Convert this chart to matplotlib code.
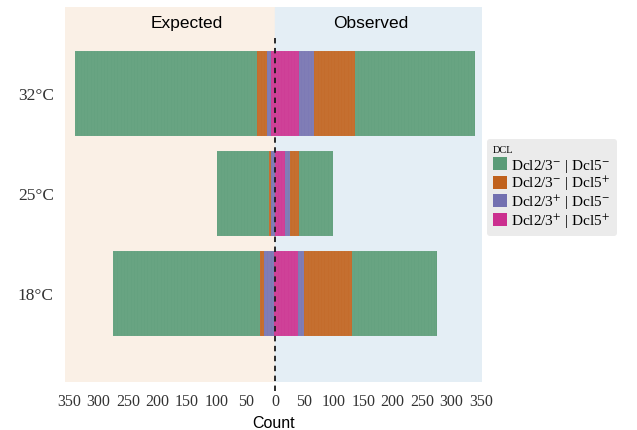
import numpy as np
import matplotlib.pyplot as plt
from matplotlib.patches import Patch

plt.rcParams['mathtext.fontset'] = 'stix'

temps = ['18°C', '25°C', '32°C']
groups = ['Dcl2/3$^{-}$ | Dcl5$^{-}$', 'Dcl2/3$^{-}$ | Dcl5$^{+}$',
          'Dcl2/3$^{+}$ | Dcl5$^{-}$', 'Dcl2/3$^{+}$ | Dcl5$^{+}$']
colors = ['#5A9B77', '#C0611C', '#7370B0', '#CB2F8F']

# counts per temperature (18, 25, 32), one list per DCL group
expected_mm = [250, 89, 309]
expected_mp = [7, 3, 18]
expected_pm = [16, 7, 6]
expected_pp = [2, 0, 7]
observed_mm = [144, 58, 204]
observed_mp = [81, 15, 69]
observed_pm = [11, 9, 26]
observed_pp = [39, 17, 41]

expected = np.array([expected_mm, expected_mp, expected_pm, expected_pp])
observed = np.array([observed_mm, observed_mp, observed_pm, observed_pp])

fig = plt.figure(figsize=(6.37, 4.31), dpi=100)
ax = fig.add_axes([65 / 637, 1 - 383 / 431, 417 / 637, 375 / 431])
xmin, xmax = -357, 352
ax.set_xlim(xmin, xmax)
ax.set_ylim(-0.89, 2.86)
ax.axvspan(xmin, 0, color='#FAF0E6', zorder=0)
ax.axvspan(0, xmax, color='#E4EEF5', zorder=0)


def unit_bars(y, start, n, color):
    # one 1-wide block per individual
    if n == 0:
        return
    ax.barh(np.full(n, y), 1, left=start + np.arange(n), height=0.85,
            color=color, edgecolor=(1, 1, 1, 0.12), linewidth=0.3,
            align='center', zorder=2)


for i in range(len(temps)):
    left = -expected[:, i].sum()
    for g in range(4):
        unit_bars(i, left, expected[g, i], colors[g])
        left += expected[g, i]
    right = 0
    for g in reversed(range(4)):
        unit_bars(i, right, observed[g, i], colors[g])
        right += observed[g, i]

ax.axvline(0, ymin=-0.025, ymax=0.923, color='#1A1A1A', lw=1.3,
           ls=(0, (3, 2.5)), zorder=3, clip_on=False)

ax.text(-150, 2.70, 'Expected', ha='center', va='center',
        family='Liberation Sans', fontsize=12.5)
ax.text(162, 2.70, 'Observed', ha='center', va='center',
        family='Liberation Sans', fontsize=12.5)

ax.set_yticks(range(len(temps)))
ax.set_yticklabels(temps, family='Liberation Serif', fontsize=12.5,
                   color='#333333')
ticks = np.arange(-350, 351, 50)
ax.set_xticks(ticks)
ax.set_xticklabels([str(abs(t)) for t in ticks], family='Liberation Serif',
                   fontsize=11.5, color='#333333')
ax.tick_params(length=0)
ax.tick_params(axis='y', pad=8)
ax.tick_params(axis='x', pad=8)
ax.set_xlabel('Count', family='Liberation Sans', fontsize=11.5, labelpad=4)
for s in ax.spines.values():
    s.set_visible(False)

handles = [Patch(facecolor=c, edgecolor='none') for c in colors]
leg = fig.legend(handles, groups, title='DCL', loc='upper left',
                 bbox_to_anchor=(487 / 637, 1 - 140 / 431),
                 prop={'family': 'Liberation Serif', 'size': 11},
                 title_fontproperties={'family': 'Liberation Serif', 'size': 7.5},
                 alignment='left', frameon=True, fancybox=True,
                 facecolor='#EBEBEB', edgecolor='none', framealpha=1,
                 handlelength=0.9, handleheight=0.9, handletextpad=0.3,
                 labelspacing=0.02, borderpad=0.4, borderaxespad=0)
# keep a small gap between the title and the entries
leg._legend_box.sep = 2

fig.savefig('out.png', dpi=100)
